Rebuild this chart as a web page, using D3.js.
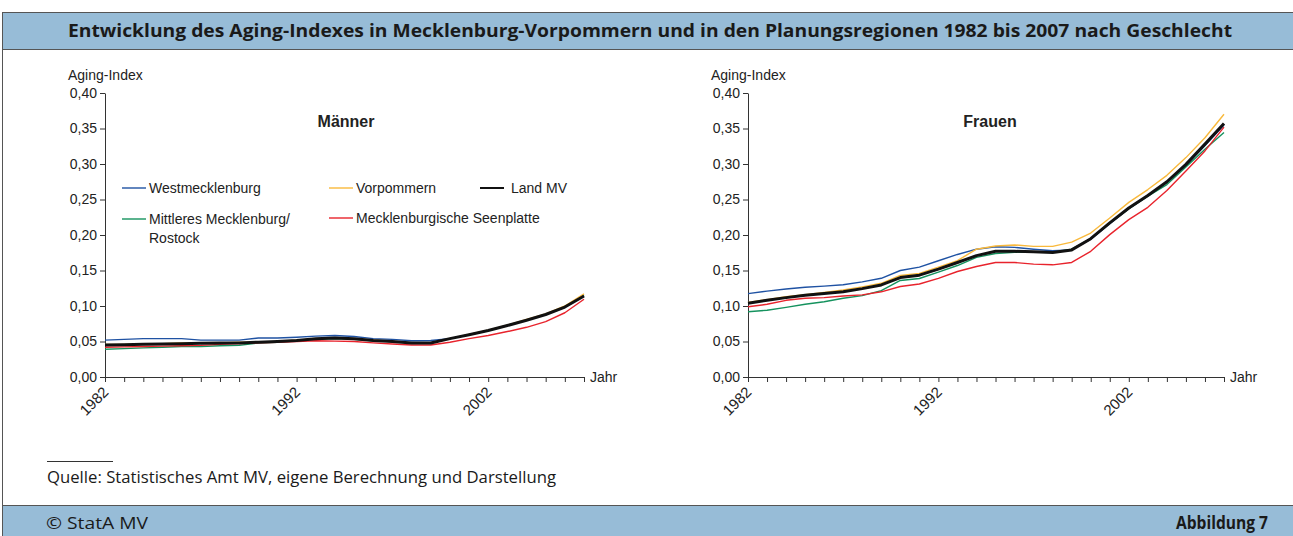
<!DOCTYPE html>
<meta charset="utf-8">
<style>
body { margin: 0; background: #fff; }
svg { display: block; }
.axis path, .axis line { stroke: #333; }
.axis text { font-family: "Liberation Sans", Arial, sans-serif; font-size: 14px; fill: #222; }
.xax text { font-size: 15px; }
.lbl { font-family: "Liberation Sans", Arial, sans-serif; font-size: 14px; fill: #222; }
.frame { font-family: "Open Sans", sans-serif; fill: #1a1a1a; }
</style>
<body>
<svg width="1293" height="536"></svg>
<script src="https://cdn.jsdelivr.net/npm/d3@7"></script>
<script>

var years = d3.range(1982, 2008);
var tickYears = [1982, 1992, 2002];
var yTicks = [0, 0.05, 0.10, 0.15, 0.20, 0.25, 0.30, 0.35, 0.40];

// Männer
var mWest = [0.052,0.053,0.054,0.054,0.054,0.052,0.052,0.052,0.055,0.055,0.056,0.0575,0.0585,0.057,0.054,0.053,0.051,0.0515,0.054,0.0595,0.0655,0.0725,0.080,0.088,0.0985,0.114];
var mVorp = [0.046,0.046,0.047,0.047,0.048,0.048,0.048,0.049,0.049,0.050,0.052,0.054,0.055,0.054,0.052,0.050,0.048,0.048,0.054,0.060,0.066,0.073,0.081,0.089,0.100,0.117];
var mMitt = [0.039,0.040,0.041,0.042,0.043,0.043,0.044,0.0445,0.048,0.049,0.051,0.053,0.054,0.053,0.051,0.050,0.048,0.048,0.054,0.0595,0.0655,0.0725,0.080,0.088,0.099,0.115];
var mSeen = [0.042,0.0425,0.043,0.0435,0.044,0.0445,0.046,0.047,0.048,0.049,0.050,0.051,0.0505,0.050,0.048,0.0465,0.045,0.045,0.049,0.054,0.0585,0.064,0.070,0.078,0.0905,0.1095];
var mLand = [0.045,0.0455,0.046,0.0465,0.047,0.0475,0.048,0.048,0.049,0.050,0.0515,0.054,0.055,0.054,0.0515,0.050,0.048,0.048,0.054,0.0595,0.0655,0.0725,0.080,0.088,0.0985,0.114];

// Frauen
var fWest = [0.1175,0.121,0.124,0.1265,0.128,0.130,0.134,0.139,0.150,0.1547,0.1637,0.1726,0.180,0.1835,0.1826,0.180,0.1778,0.179,0.194,0.216,0.237,0.255,0.274,0.298,0.326,0.355];
var fVorp = [0.105,0.109,0.113,0.116,0.119,0.1226,0.127,0.132,0.143,0.146,0.1547,0.164,0.180,0.1845,0.186,0.184,0.184,0.190,0.2028,0.224,0.246,0.264,0.284,0.309,0.337,0.370];
var fMitt = [0.092,0.094,0.098,0.1024,0.106,0.111,0.1146,0.1217,0.136,0.1387,0.1476,0.157,0.1684,0.174,0.1755,0.176,0.1755,0.180,0.1948,0.217,0.237,0.2547,0.271,0.2958,0.3208,0.3443];
var fSeen = [0.099,0.1024,0.108,0.111,0.1118,0.114,0.1156,0.120,0.1274,0.131,0.139,0.1486,0.1557,0.1613,0.1613,0.159,0.158,0.1613,0.177,0.2005,0.2217,0.239,0.2627,0.290,0.3184,0.352];
var fLand = [0.104,0.108,0.1118,0.115,0.1175,0.120,0.1245,0.1297,0.140,0.1434,0.152,0.1613,0.171,0.177,0.177,0.1764,0.1755,0.179,0.1948,0.217,0.238,0.2557,0.275,0.2995,0.328,0.357];

var names = ["Westmecklenburg", "Vorpommern", "Mittleres Mecklenburg/ Rostock", "Mecklenburgische Seenplatte", "Land MV"];
var colors = ["#1f52a3", "#f9b93c", "#15925e", "#e8232c", "#111111"];
var widths = [1.4, 1.4, 1.4, 1.4, 3];

var svg = d3.select("svg");

// frame
svg.append("rect").attr("x", 2.5).attr("y", 12.5).attr("width", 1292).attr("height", 600)
    .attr("fill", "none").attr("stroke", "#555");
svg.append("rect").attr("x", 2.5).attr("y", 12.5).attr("width", 1292).attr("height", 37)
    .attr("fill", "#97bcd7").attr("stroke", "#555");
svg.append("rect").attr("x", 2.5).attr("y", 505.5).attr("width", 1292).attr("height", 40)
    .attr("fill", "#97bcd7").attr("stroke", "#555");

svg.append("text").attr("class", "frame")
    .attr("x", 650).attr("y", 37).attr("text-anchor", "middle")
    .style("font-weight", "bold").style("font-size", "17px")
    .attr("textLength", 1164).attr("lengthAdjust", "spacingAndGlyphs")
    .text("Entwicklung des Aging-Indexes in Mecklenburg-Vorpommern und in den Planungsregionen 1982 bis 2007 nach Geschlecht");

svg.append("line").attr("x1", 47).attr("x2", 113).attr("y1", 461.5).attr("y2", 461.5)
    .attr("stroke", "#333");
svg.append("text").attr("class", "frame").attr("x", 47).attr("y", 483).style("font-size", "16px")
    .attr("textLength", 509).attr("lengthAdjust", "spacingAndGlyphs")
    .text("Quelle: Statistisches Amt MV, eigene Berechnung und Darstellung");
svg.append("text").attr("class", "frame").attr("x", 46).attr("y", 529).style("font-size", "17px")
    .attr("textLength", 102).attr("lengthAdjust", "spacingAndGlyphs")
    .text("© StatA MV");
svg.append("text").attr("class", "frame").attr("x", 1268).attr("y", 529).style("font-size", "17px")
    .style("font-weight", "bold").attr("text-anchor", "end")
    .attr("textLength", 92).attr("lengthAdjust", "spacingAndGlyphs")
    .text("Abbildung 7");

function chart(left, right, title, titleX, series) {
  var x = d3.scaleLinear().domain([1982, 2007]).range([left, right]);
  var y = d3.scaleLinear().domain([0, 0.40]).range([377, 93]);
  var g = svg.append("g");

  g.append("g").attr("class", "axis")
      .attr("transform", "translate(" + left + ",0)")
      .call(d3.axisLeft(y).tickValues(yTicks).tickSize(5).tickSizeOuter(0).tickPadding(3)
        .tickFormat(function(d) { return d3.format(".2f")(d).replace(".", ","); }));

  var xa = g.append("g").attr("class", "axis xax")
      .attr("transform", "translate(0,377)")
      .call(d3.axisBottom(x).tickValues(years).tickSize(5).tickSizeOuter(0)
        .tickFormat(function(d) { return tickYears.indexOf(d) >= 0 ? d : ""; }));
  xa.selectAll("text")
      .attr("text-anchor", "end")
      .attr("dx", 0).attr("dy", 0)
      .attr("transform", "translate(4,16) rotate(-45)")
      .attr("y", 0).attr("x", 0);

  g.append("text").attr("class", "lbl").attr("x", right + 6).attr("y", 382).text("Jahr");
  g.append("text").attr("class", "lbl").attr("x", left - 37).attr("y", 80).text("Aging-Index");
  g.append("text").attr("class", "lbl").attr("x", titleX).attr("y", 127)
      .style("font-weight", "bold").style("font-size", "16px").attr("text-anchor", "middle").text(title);

  var line = d3.line().x(function(d, i) { return x(years[i]); }).y(function(d) { return y(d); });
  var order = [0, 2, 1, 3, 4];
  order.forEach(function(k) {
    g.append("path").datum(series[k])
        .attr("fill", "none")
        .attr("stroke", colors[k])
        .attr("stroke-width", widths[k])
        .attr("stroke-linejoin", "round")
        .attr("d", line);
  });
}

chart(105, 584, "Männer", 346, [mWest, mVorp, mMitt, mSeen, mLand]);
chart(748, 1224, "Frauen", 990, [fWest, fVorp, fMitt, fSeen, fLand]);

// legend (left chart)
var legPos = [[122, 188], [329, 188], [122, 219], [329, 218], [480, 188]];
legPos.forEach(function(p, k) {
  svg.append("line").attr("x1", p[0]).attr("x2", p[0] + 24).attr("y1", p[1]).attr("y2", p[1])
      .attr("stroke", colors[k]).attr("stroke-width", k == 4 ? 2 : 1.4);
  var tx = p[0] + (k == 4 ? 31 : 27);
  var t = svg.append("text").attr("class", "lbl").attr("x", tx).attr("y", p[1] + 5);
  var parts = names[k].split("/ ");
  if (parts.length > 1) {
    t.append("tspan").attr("x", tx).text(parts[0] + "/");
    t.append("tspan").attr("x", tx).attr("dy", 19).text(parts[1]);
  } else {
    t.text(names[k]);
  }
});

</script>
</body>
